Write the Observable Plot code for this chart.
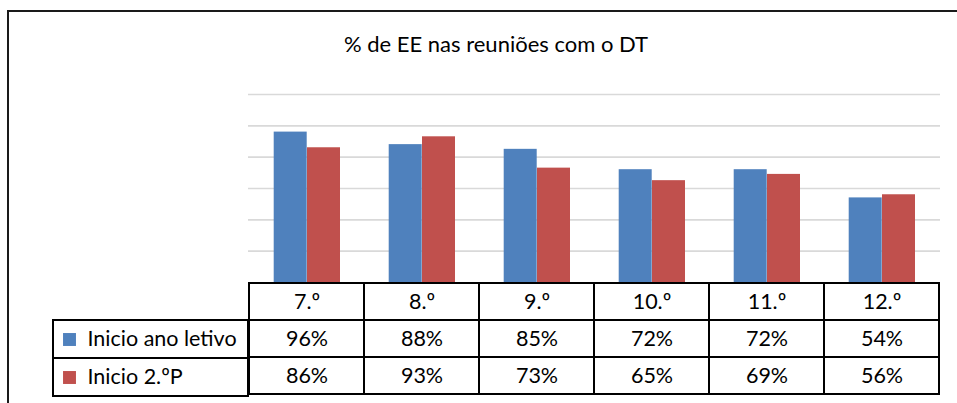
<!DOCTYPE html>
<html>
<head>
<meta charset="utf-8">
<script src="https://cdn.jsdelivr.net/npm/d3@7"></script>
<script src="https://cdn.jsdelivr.net/npm/@observablehq/plot@0.6"></script>
<style>
  html, body { margin: 0; padding: 0; background: #fff; }
  #wrap { position: relative; width: 957px; height: 403px; overflow: hidden; background: #fff; font-family: Lato, "Open Sans", sans-serif; }
  #wrap > svg { position: absolute; left: 0; top: 0; }
  #frame { position: absolute; left: 7px; top: 10px; width: 1000px; height: 500px; border-top: 2px solid #1a1a1a; border-left: 2px solid #1a1a1a; }
  #title { position: absolute; left: 248px; width: 496px; top: 31px; line-height: 26px; text-align: center; font-size: 22px; color: #000; white-space: nowrap; }
</style>
</head>
<body>
<div id="wrap">
  <div id="frame"></div>
  <div id="title">% de EE nas reuniões com o DT</div>
</div>
<script>
const categories = ["7.º", "8.º", "9.º", "10.º", "11.º", "12.º"];
const seriesNames = ["Inicio ano letivo", "Inicio 2.ºP"];
const anoLetivo = [96, 88, 85, 72, 72, 54];
const segundoP = [86, 93, 73, 65, 69, 56];
const colors = ["#4F81BD", "#C0504D"];
const yTicks = [20, 40, 60, 80, 100, 120];

const seriesValues = [anoLetivo, segundoP];
const rows = seriesNames.flatMap((name, i) =>
  categories.map((cat, j) => ({ series: name, cat, value: seriesValues[i][j] }))
);
const font = "Lato, 'Open Sans', sans-serif";
const wrap = document.getElementById("wrap");

// Chart
const chart = Plot.plot({
  width: 957, height: 403,
  marginLeft: 248, marginRight: 17, marginTop: 94, marginBottom: 121,
  style: { background: "transparent", fontFamily: font },
  x: { domain: categories, padding: 0, axis: null },
  y: { domain: [0, 120], axis: null },
  color: { domain: seriesNames, range: colors },
  marks: [
    Plot.gridY(yTicks, { stroke: "#d9d9d9", strokeOpacity: 1, strokeWidth: 1.6 }),
    Plot.barY(rows.filter(d => d.series === seriesNames[0]), { x: "cat", y: "value", fill: "series", insetLeft: 24.7, insetRight: 57.3 }),
    Plot.barY(rows.filter(d => d.series === seriesNames[1]), { x: "cat", y: "value", fill: "series", insetLeft: 58, insetRight: 24 })
  ]
});
wrap.appendChild(chart);

// Data table
const tableCells = [
  ...categories.map(cat => ({ cat, row: "header", text: cat })),
  ...rows.map(d => ({ cat: d.cat, row: d.series, text: d.value + "%" }))
];
const table = Plot.plot({
  width: 957, height: 403,
  marginLeft: 248, marginRight: 17, marginTop: 282, marginBottom: 7.5,
  style: { background: "transparent", fontFamily: font },
  x: { domain: categories, padding: 0, axis: null },
  y: { domain: ["header", ...seriesNames], padding: 0, axis: null },
  marks: [
    Plot.cell(tableCells, { x: "cat", y: "row", fill: "none", stroke: "#000", strokeWidth: 2 }),
    Plot.text(tableCells, { x: "cat", y: "row", text: "text", fontSize: 21.5, fill: "#000" })
  ]
});
wrap.appendChild(table);

// Legend column
const legendRows = seriesNames.map((name, i) => ({ name, color: colors[i] }));
const legend = Plot.plot({
  width: 957, height: 403,
  marginLeft: 53, marginRight: 709, marginTop: 319.5, marginBottom: 7.5,
  style: { background: "transparent", fontFamily: font },
  x: { domain: ["legend"], padding: 0, axis: null },
  y: { domain: seriesNames, padding: 0, axis: null },
  marks: [
    Plot.cell(legendRows, { x: () => "legend", y: "name", fill: "none", stroke: "#000", strokeWidth: 2 }),
    Plot.dot(legendRows, { y: "name", frameAnchor: "left", dx: 16, symbol: "square", r: 7.3, fill: "color", stroke: "none" }),
    Plot.text(legendRows, { y: "name", text: "name", frameAnchor: "left", dx: 34, textAnchor: "start", fontSize: 21.5, fill: "#000" })
  ]
});
wrap.appendChild(legend);
</script>
</body>
</html>
